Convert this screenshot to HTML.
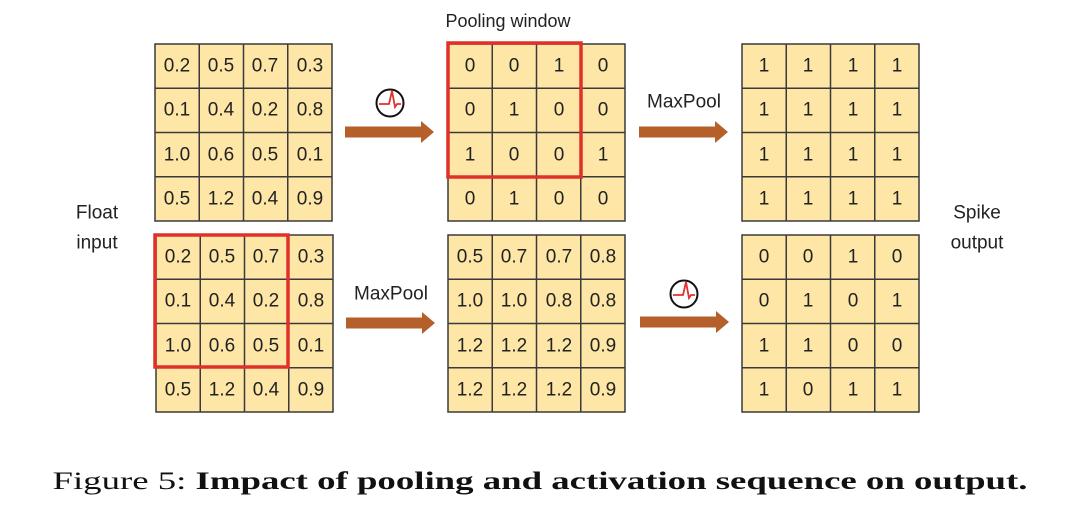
<!DOCTYPE html>
<html><head><meta charset="utf-8"><style>
html,body{margin:0;padding:0;background:#fff;}
svg{display:block;}
</style></head><body>
<svg width="1072" height="514" viewBox="0 0 1072 514" xmlns="http://www.w3.org/2000/svg">
<defs>
<g id="grid">
<rect x="0" y="0" width="177" height="177" fill="#fde6a6" stroke="#3a3a3a" stroke-width="1.5"/>
<line x1="44.25" y1="0" x2="44.25" y2="177" stroke="#3a3a3a" stroke-width="1.5"/>
<line x1="88.5" y1="0" x2="88.5" y2="177" stroke="#3a3a3a" stroke-width="1.5"/>
<line x1="132.75" y1="0" x2="132.75" y2="177" stroke="#3a3a3a" stroke-width="1.5"/>
<line x1="0" y1="44.25" x2="177" y2="44.25" stroke="#3a3a3a" stroke-width="1.5"/>
<line x1="0" y1="88.5" x2="177" y2="88.5" stroke="#3a3a3a" stroke-width="1.5"/>
<line x1="0" y1="132.75" x2="177" y2="132.75" stroke="#3a3a3a" stroke-width="1.5"/>
</g>
<g id="spike">
<circle cx="0" cy="0" r="13.5" fill="#fff" stroke="#111" stroke-width="2"/>
<polyline points="-11,1 -1,1 2,-12 5,4 7,1 11,1" fill="none" stroke="#e03030" stroke-width="1.8"/>
</g>
<polygon id="arrow" points="0,-5.5 76,-5.5 76,-11 89,0 76,11 76,5.5 0,5.5" fill="#b5602a"/>
</defs>

<use href="#grid" x="155" y="44"/>
<use href="#grid" x="448" y="44"/>
<use href="#grid" x="742" y="44"/>
<use href="#grid" x="156" y="235"/>
<use href="#grid" x="448" y="235"/>
<use href="#grid" x="742" y="235"/>

<g font-family="Liberation Sans, sans-serif" font-size="19" fill="#222" text-anchor="middle" dominant-baseline="central">
<!-- G1 -->
<text x="177" y="66">0.2</text><text x="221" y="66">0.5</text><text x="265" y="66">0.7</text><text x="310" y="66">0.3</text>
<text x="177" y="110">0.1</text><text x="221" y="110">0.4</text><text x="265" y="110">0.2</text><text x="310" y="110">0.8</text>
<text x="177" y="155">1.0</text><text x="221" y="155">0.6</text><text x="265" y="155">0.5</text><text x="310" y="155">0.1</text>
<text x="177" y="199">0.5</text><text x="221" y="199">1.2</text><text x="265" y="199">0.4</text><text x="310" y="199">0.9</text>
<!-- G2 -->
<text x="470" y="66">0</text><text x="514" y="66">0</text><text x="559" y="66">1</text><text x="603" y="66">0</text>
<text x="470" y="110">0</text><text x="514" y="110">1</text><text x="559" y="110">0</text><text x="603" y="110">0</text>
<text x="470" y="155">1</text><text x="514" y="155">0</text><text x="559" y="155">0</text><text x="603" y="155">1</text>
<text x="470" y="199">0</text><text x="514" y="199">1</text><text x="559" y="199">0</text><text x="603" y="199">0</text>
<!-- G3 -->
<text x="764" y="66">1</text><text x="808" y="66">1</text><text x="853" y="66">1</text><text x="897" y="66">1</text>
<text x="764" y="110">1</text><text x="808" y="110">1</text><text x="853" y="110">1</text><text x="897" y="110">1</text>
<text x="764" y="155">1</text><text x="808" y="155">1</text><text x="853" y="155">1</text><text x="897" y="155">1</text>
<text x="764" y="199">1</text><text x="808" y="199">1</text><text x="853" y="199">1</text><text x="897" y="199">1</text>
<!-- G4 -->
<text x="178" y="257">0.2</text><text x="222" y="257">0.5</text><text x="266" y="257">0.7</text><text x="311" y="257">0.3</text>
<text x="178" y="301">0.1</text><text x="222" y="301">0.4</text><text x="266" y="301">0.2</text><text x="311" y="301">0.8</text>
<text x="178" y="346">1.0</text><text x="222" y="346">0.6</text><text x="266" y="346">0.5</text><text x="311" y="346">0.1</text>
<text x="178" y="390">0.5</text><text x="222" y="390">1.2</text><text x="266" y="390">0.4</text><text x="311" y="390">0.9</text>
<!-- G5 -->
<text x="470" y="257">0.5</text><text x="514" y="257">0.7</text><text x="559" y="257">0.7</text><text x="603" y="257">0.8</text>
<text x="470" y="301">1.0</text><text x="514" y="301">1.0</text><text x="559" y="301">0.8</text><text x="603" y="301">0.8</text>
<text x="470" y="346">1.2</text><text x="514" y="346">1.2</text><text x="559" y="346">1.2</text><text x="603" y="346">0.9</text>
<text x="470" y="390">1.2</text><text x="514" y="390">1.2</text><text x="559" y="390">1.2</text><text x="603" y="390">0.9</text>
<!-- G6 -->
<text x="764" y="257">0</text><text x="808" y="257">0</text><text x="853" y="257">1</text><text x="897" y="257">0</text>
<text x="764" y="301">0</text><text x="808" y="301">1</text><text x="853" y="301">0</text><text x="897" y="301">1</text>
<text x="764" y="346">1</text><text x="808" y="346">1</text><text x="853" y="346">0</text><text x="897" y="346">0</text>
<text x="764" y="390">1</text><text x="808" y="390">0</text><text x="853" y="390">1</text><text x="897" y="390">1</text>

<text x="508" y="21" font-size="18">Pooling window</text>
<text x="97" y="213" font-size="19">Float</text>
<text x="97" y="243" font-size="19">input</text>
<text x="977" y="213" font-size="19">Spike</text>
<text x="977" y="243" font-size="19">output</text>
<text x="684" y="102" font-size="19">MaxPool</text>
<text x="391" y="294" font-size="19">MaxPool</text>
</g>

<rect x="448" y="43" width="133" height="134" fill="none" stroke="#e0302a" stroke-width="3.5"/>
<rect x="155" y="235" width="133" height="132" fill="none" stroke="#e0302a" stroke-width="3.5"/>

<use href="#arrow" x="345" y="132"/>
<use href="#arrow" x="639" y="132"/>
<use href="#arrow" x="346" y="323"/>
<use href="#arrow" x="640" y="322"/>

<use href="#spike" x="390" y="103"/>
<use href="#spike" x="684" y="294"/>

<text x="540" y="489" font-family="Liberation Serif, serif" font-size="25" fill="#111" text-anchor="middle" textLength="975" lengthAdjust="spacingAndGlyphs">Figure 5: <tspan font-weight="bold">Impact of pooling and activation sequence on output.</tspan></text>
</svg>
</body></html>
